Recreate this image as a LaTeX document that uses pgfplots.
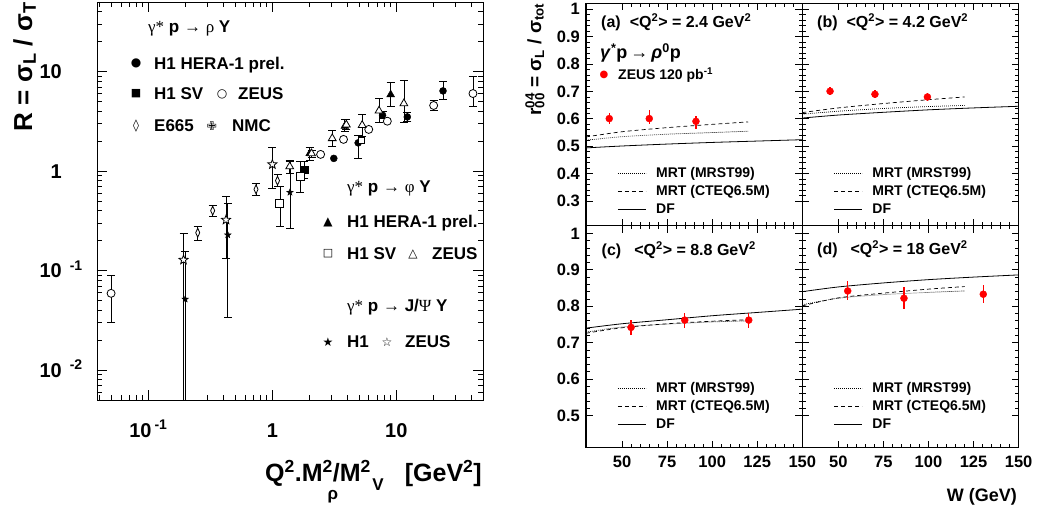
\documentclass[border=0pt]{standalone}
\usepackage{fontspec}
\setmainfont{Liberation Sans}
\newfontfamily\serif{Liberation Serif}
\newfontfamily\dejavu{DejaVu Sans}
\usepackage{pgfplots}
\pgfplotsset{compat=1.18}
\usetikzlibrary{plotmarks}

\pgfdeclareplotmark{fstar}{%
  \pgfpathmoveto{\pgfpointpolar{90}{\pgfplotmarksize}}%
  \pgfpathlineto{\pgfpointpolar{126}{0.42\pgfplotmarksize}}%
  \pgfpathlineto{\pgfpointpolar{162}{\pgfplotmarksize}}%
  \pgfpathlineto{\pgfpointpolar{198}{0.42\pgfplotmarksize}}%
  \pgfpathlineto{\pgfpointpolar{234}{\pgfplotmarksize}}%
  \pgfpathlineto{\pgfpointpolar{270}{0.42\pgfplotmarksize}}%
  \pgfpathlineto{\pgfpointpolar{306}{\pgfplotmarksize}}%
  \pgfpathlineto{\pgfpointpolar{342}{0.42\pgfplotmarksize}}%
  \pgfpathlineto{\pgfpointpolar{18}{\pgfplotmarksize}}%
  \pgfpathlineto{\pgfpointpolar{54}{0.42\pgfplotmarksize}}%
  \pgfpathclose
  \pgfusepathqfillstroke
}

\pgfplotsset{
  lerr/.style={error bars/.cd, y dir=both, y explicit,
    error bar style={black, line width=0.7pt},
    error mark=|,
    error mark options={black, mark size=4pt, line width=0.7pt}},
  rpanel/.style={
    anchor=south west, scale only axis, width=216.3pt,
    xmin=30, xmax=150, xtick={50,75,100,125,150}, minor x tick num=4,
    axis line style={line width=1.3pt},
    major tick length=7pt, minor tick length=3.5pt,
    every tick/.style={black, line width=0.8pt},
    /pgf/number format/assume math mode=true,
    ticklabel style={font=\bfseries\fontsize{16.5}{18}\selectfont},
    xticklabel style={anchor=north, inner sep=0pt, yshift=-8pt},
    yticklabel style={anchor=east, inner sep=0pt, xshift=-6pt},
    legend cell align=left,
    legend image code/.code={\draw[##1] (0pt,0pt) -- (28pt,0pt);},
    legend style={draw=none, fill=none, anchor=north west, inner sep=0pt,
      font=\bfseries\fontsize{14}{16}\selectfont,
      column sep=8pt, row sep=0pt,
      nodes={inner sep=2pt, text height=11pt, text depth=3pt}},
  },
  rtop/.style={rpanel, height=222.4pt, ymin=0.21, ymax=1.022,
    ytick={0.3,0.4,0.5,0.6,0.7,0.8,0.9,1}, minor y tick num=4,
    xticklabels={}, legend style={at={(0.144,0.276)}}},
  rbot/.style={rpanel, height=222pt, ymin=0.412, ymax=1.021,
    ytick={0.5,0.6,0.7,0.8,0.9,1}, minor y tick num=4,
    legend style={at={(0.144,0.308)}}},
  rdata/.style={only marks, mark=*, mark size=3.5pt, red, forget plot,
    error bars/.cd, y dir=both, y explicit,
    error bar style={red, line width=1.3pt}, error mark=none},
  mrst/.style={black, line width=0.7pt, dash pattern=on 0.8pt off 1.2pt, smooth},
  cteq/.style={black, line width=0.7pt, dash pattern=on 4pt off 3pt, smooth},
  dfl/.style={black, line width=0.8pt, smooth},
}

\tikzset{glyph/.style={inner sep=0pt, anchor=center, font=\dejavu\fontsize{12}{12}\selectfont},
  ltxt/.style={inner sep=0pt, anchor=base west, font=\bfseries\fontsize{17}{20}\selectfont}}

\begin{document}
\begin{tikzpicture}[x=1pt,y=1pt]
\useasboundingbox (0,0) rectangle (1039,506);

%================ LEFT PANEL ================
\begin{axis}[
  at={(97pt,106pt)}, anchor=south west, scale only axis,
  width=386pt, height=398pt,
  xmode=log, ymode=log, xmin=0.0385, xmax=50, ymin=0.005, ymax=50,
  axis line style={line width=0.9pt},
  major tick length=10pt, minor tick length=5pt,
  every tick/.style={black, line width=0.7pt},
  xtick={0.1,1,10},
  xticklabels={10\textsuperscript{\hspace{3pt}-1}, 1, 10},
  minor xtick={0.04,0.05,0.06,0.07,0.08,0.09,0.2,0.3,0.4,0.5,0.6,0.7,0.8,0.9,2,3,4,5,6,7,8,9,20,30,40},
  ytick={0.01,0.1,1,10},
  yticklabels={10\rlap{\hspace{8pt}\textsuperscript{-2}}, 10\rlap{\hspace{8pt}\textsuperscript{-1}}, 1\hspace{-6pt}, 10},
  minor ytick={0.006,0.007,0.008,0.009,0.02,0.03,0.04,0.05,0.06,0.07,0.08,0.09,0.2,0.3,0.4,0.5,0.6,0.7,0.8,0.9,2,3,4,5,6,7,8,9,20,30,40},
  ticklabel style={font=\bfseries\fontsize{20}{22}\selectfont},
  xticklabel style={anchor=base, inner sep=0pt, yshift=-37pt},
  yticklabel style={anchor=base east, inner sep=0pt, xshift=-35pt, yshift=-7.2pt},
]
% rho: H1 HERA-1 prel.
\addplot[only marks, mark=*, mark size=3.5pt, black] coordinates {(3.13,1.34)};
\addplot[only marks, mark=*, mark size=3.5pt, black, lerr] coordinates {
 (4.92,1.92) += (0,0.38) -= (0,0.57)
 (7.74,3.64) += (0,0.31) -= (0,0.29)
 (12.26,3.5) += (0,0.35) -= (0,0.35)
 (23.8,6.39) += (0,1.58) -= (0,1.15)
};
% rho: H1 SV
\addplot[only marks, mark=square*, mark size=3.5pt, black, lerr] coordinates {
 (1.81,1.04) += (0,0.20) -= (0,0.195)
};
% rho: ZEUS
\addplot[only marks, mark=*, mark size=4pt, black, mark options={fill=white, line width=0.8pt}] coordinates {
 (2.45,1.47) (3.75,2.08) (5.99,2.62) (8.46,3.17)
};
\addplot[only marks, mark=*, mark size=4pt, black, mark options={fill=white, line width=0.8pt}, lerr] coordinates {
 (0.050,0.059) += (0,0.0295) -= (0,0.0289)
 (20.0,4.56) += (0,0.59) -= (0,0.53)
 (41.5,6.01) += (0,2.94) -= (0,1.52)
};
% rho: E665
\addplot[only marks, mark=diamond*, mark size=4.5pt, black, mark options={fill=white, xscale=0.6, line width=0.8pt}, lerr] coordinates {
 (0.25,0.24) += (0,0.04) -= (0,0.037)
 (0.33,0.40) += (0,0.049) -= (0,0.052)
 (0.738,0.655) += (0,0.098) -= (0,0.08)
 (1.10,0.80) += (0,0.126) -= (0,0.104)
};
% phi: H1 HERA-1 prel.
\addplot[only marks, mark=triangle*, mark size=4.5pt, black, lerr] coordinates {
 (2.0,1.50) += (0,0.24) -= (0,0.21)
 (3.84,2.83) += (0,0.47) -= (0,0.35)
 (9.0,5.87) += (0,1.99) -= (0,1.36)
};
% phi: ZEUS
\addplot[only marks, mark=triangle*, mark size=4.5pt, black, mark options={fill=white, line width=0.8pt}, lerr] coordinates {
 (1.38,1.11) += (0,0.16) -= (0,0.16)
 (2.07,1.50) += (0,0.12) -= (0,0.12)
 (3.04,2.13) += (0,0.41) -= (0,0.35)
 (3.95,2.92) += (0,0.38) -= (0,0.3)
 (5.3,2.89) += (0,0.83) -= (0,0.65)
 (7.25,4.03) += (0,1.4) -= (0,0.91)
 (11.5,4.77) += (0,3.4) -= (0,1.65)
};
% phi: H1 SV
\addplot[only marks, mark=square*, mark size=4pt, black, mark options={fill=white, line width=0.8pt}, lerr] coordinates {
 (1.15,0.474) += (0,0.222) -= (0,0.197)
 (1.67,0.877) += (0,0.363) -= (0,0.271)
};
\addplot[only marks, mark=square*, mark size=3pt, black, mark options={fill=white, line width=0.8pt}] coordinates {(5.2,2.05)};
% J/psi: H1
\addplot[only marks, mark=fstar, mark size=3.5pt, black, mark options={fill=black}, lerr] coordinates {
 (0.198,0.0516) += (0,0.1034) -= (0,0.0496)
 (0.437,0.228) += (0,0.247) -= (0,0.1945)
 (1.386,0.611) += (0,0.629) -= (0,0.345)
};
% J/psi: ZEUS
\addplot[only marks, mark=fstar, mark size=4.8pt, black, mark options={fill=white, line width=0.8pt}, lerr] coordinates {
 (0.192,0.128) += (0,0.109) -= (0,0.126)
 (0.423,0.323) += (0,0.238) -= (0,0.189)
 (1.0,1.167) += (0,0.563) -= (0,0.497)
};
\end{axis}

\node[ltxt] at (148,473) {{\serif\mdseries γ*} p {\serif\mdseries →} {\serif\mdseries ρ} Y};
\node[glyph] at (136,443) {●};
\node[ltxt] at (154,436) {H1 HERA-1 prel.};
\node[glyph, font=\dejavu\fontsize{11}{11}\selectfont] at (136,412) {■};
\node[ltxt] at (154,406) {H1 SV};
\node[glyph] at (222,412) {○};
\node[ltxt] at (238,406) {ZEUS};
\node[glyph] at (136,380) {◊};
\node[ltxt] at (154,374) {E665};
\node[glyph] at (212,380) {✙};
\node[ltxt] at (232,374) {NMC};
\node[ltxt] at (347,313) {{\serif\mdseries γ*} p {\serif\mdseries →} {\serif\mdseries φ} Y};
\node[glyph] at (328,284) {▲};
\node[ltxt] at (347,278) {H1 HERA-1 prel.};
\node[glyph, font=\dejavu\fontsize{11}{11}\selectfont] at (328,252) {□};
\node[ltxt] at (347,246) {H1 SV};
\node[glyph] at (413,252) {△};
\node[ltxt] at (432,246) {ZEUS};
\node[ltxt] at (347,194) {{\serif\mdseries γ*} p {\serif\mdseries →} J/{\serif\mdseries Ψ} Y};
\node[glyph] at (328,164) {★};
\node[ltxt] at (347,158) {H1};
\node[glyph] at (387,164) {☆};
\node[ltxt] at (405,158) {ZEUS};

\node[rotate=90, anchor=base east, inner sep=0pt, font=\bfseries\fontsize{26}{26}\selectfont] at (32,504) {R = σ\textsubscript{L} / σ\textsubscript{T}};
\node[anchor=base west, inner sep=0pt, font=\bfseries\fontsize{25}{25}\selectfont] at (265,24) {Q\textsuperscript{2}.M\textsuperscript{2}/M\textsuperscript{2}};
\node[anchor=base east, inner sep=0pt, font=\bfseries\fontsize{25}{25}\selectfont] at (482,24) {[GeV\textsuperscript{2}]};
\node[inner sep=0pt, font=\bfseries\fontsize{17}{17}\selectfont] at (333,9) {ρ};
\node[inner sep=0pt, font=\bfseries\fontsize{17}{17}\selectfont] at (378,21) {V};

%================ RIGHT PANELS ================
\begin{axis}[rtop, at={(586pt,280.3pt)}]
\addplot[mrst] coordinates {(30,0.522) (50,0.535) (75,0.544) (100,0.550) (120,0.555)};
\addlegendentry{MRT (MRST99)}
\addplot[cteq] coordinates {(30,0.534) (50,0.553) (75,0.568) (100,0.580) (120,0.589)};
\addlegendentry{MRT (CTEQ6.5M)}
\addplot[dfl] coordinates {(30,0.494) (50,0.501) (75,0.508) (100,0.514) (125,0.519) (150,0.524)};
\addlegendentry{DF}
\addplot[rdata] coordinates {
 (42.9,0.601) += (0,0.02) -= (0,0.02)
 (65.1,0.601) += (0,0.032) -= (0,0.021)
 (91.0,0.591) += (0,0.02) -= (0,0.028)
};
\end{axis}
\begin{axis}[rtop, at={(802.3pt,280.3pt)}, yticklabels={}]
\addplot[mrst] coordinates {(30,0.617) (50,0.628) (75,0.638) (100,0.645) (120,0.649)};
\addlegendentry{MRT (MRST99)}
\addplot[cteq] coordinates {(30,0.623) (50,0.640) (75,0.656) (100,0.670) (120,0.680)};
\addlegendentry{MRT (CTEQ6.5M)}
\addplot[dfl] coordinates {(30,0.603) (50,0.614) (75,0.624) (100,0.633) (125,0.640) (150,0.646)};
\addlegendentry{DF}
\addplot[rdata] coordinates {
 (45.4,0.701) += (0,0.015) -= (0,0.015)
 (70.3,0.690) += (0,0.015) -= (0,0.015)
 (99.4,0.680) += (0,0.015) -= (0,0.015)
};
\end{axis}
\begin{axis}[rbot, at={(586pt,58.3pt)}]
\addplot[mrst] coordinates {(30,0.729) (50,0.743) (75,0.751) (100,0.757) (120,0.760)};
\addlegendentry{MRT (MRST99)}
\addplot[cteq] coordinates {(30,0.726) (50,0.741) (75,0.752) (100,0.759) (120,0.763)};
\addlegendentry{MRT (CTEQ6.5M)}
\addplot[dfl] coordinates {(30,0.740) (50,0.752) (75,0.763) (100,0.774) (125,0.783) (150,0.792)};
\addlegendentry{DF}
\addplot[rdata] coordinates {
 (55.0,0.742) += (0,0.02) -= (0,0.022)
 (84.8,0.762) += (0,0.02) -= (0,0.022)
 (120.3,0.762) += (0,0.02) -= (0,0.022)
};
\end{axis}
\begin{axis}[rbot, at={(802.3pt,58.3pt)}, yticklabels={}]
\addplot[mrst] coordinates {(30,0.804) (50,0.822) (75,0.832) (100,0.838) (120,0.842)};
\addlegendentry{MRT (MRST99)}
\addplot[cteq] coordinates {(30,0.801) (50,0.823) (75,0.836) (100,0.847) (120,0.854)};
\addlegendentry{MRT (CTEQ6.5M)}
\addplot[dfl] coordinates {(30,0.840) (50,0.853) (75,0.864) (100,0.873) (125,0.880) (150,0.886)};
\addlegendentry{DF}
\addplot[rdata] coordinates {
 (55.2,0.842) += (0,0.026) -= (0,0.026)
 (86.4,0.822) += (0,0.03) -= (0,0.03)
 (130.4,0.833) += (0,0.025) -= (0,0.025)
};
\end{axis}

\tikzset{ptitle/.style={inner sep=0pt, anchor=base west, font=\bfseries\fontsize{16}{18}\selectfont}}
\node[ptitle] at (601,478.7) {(a)\hspace{9pt}<Q\textsuperscript{2}> = 2.4 GeV\textsuperscript{2}};
\node[ptitle] at (817,478.7) {(b)\hspace{9pt}<Q\textsuperscript{2}> = 4.2 GeV\textsuperscript{2}};
\node[ptitle] at (601.5,250.3) {(c)\hspace{13pt}<Q\textsuperscript{2}> = 8.8 GeV\textsuperscript{2}};
\node[ptitle] at (817,251) {(d)\hspace{13pt}<Q\textsuperscript{2}> = 18 GeV\textsuperscript{2}};
\node[inner sep=0pt, anchor=base west, font=\bfseries\fontsize{18}{18}\selectfont] at (600,447.7) {\textit{γ}\textsuperscript{*}p\,→\,\textit{ρ}\textsuperscript{0}p};
\node[glyph, red, font=\dejavu\fontsize{10}{10}\selectfont] at (604,431) {●};
\node[inner sep=0pt, anchor=base west, font=\bfseries\fontsize{14}{16}\selectfont] at (618,426) {ZEUS 120 pb\textsuperscript{-1}};
\node[rotate=90, anchor=base east, inner sep=0pt, font=\bfseries\fontsize{19}{19}\selectfont] at (541,503) {r\rlap{\textsuperscript{04}}\textsubscript{00} = σ\textsubscript{L} / σ\textsubscript{tot}};
\node[inner sep=0pt, anchor=base east, font=\bfseries\fontsize{18}{18}\selectfont] at (1017,4) {W (GeV)};
\end{tikzpicture}
\end{document}
